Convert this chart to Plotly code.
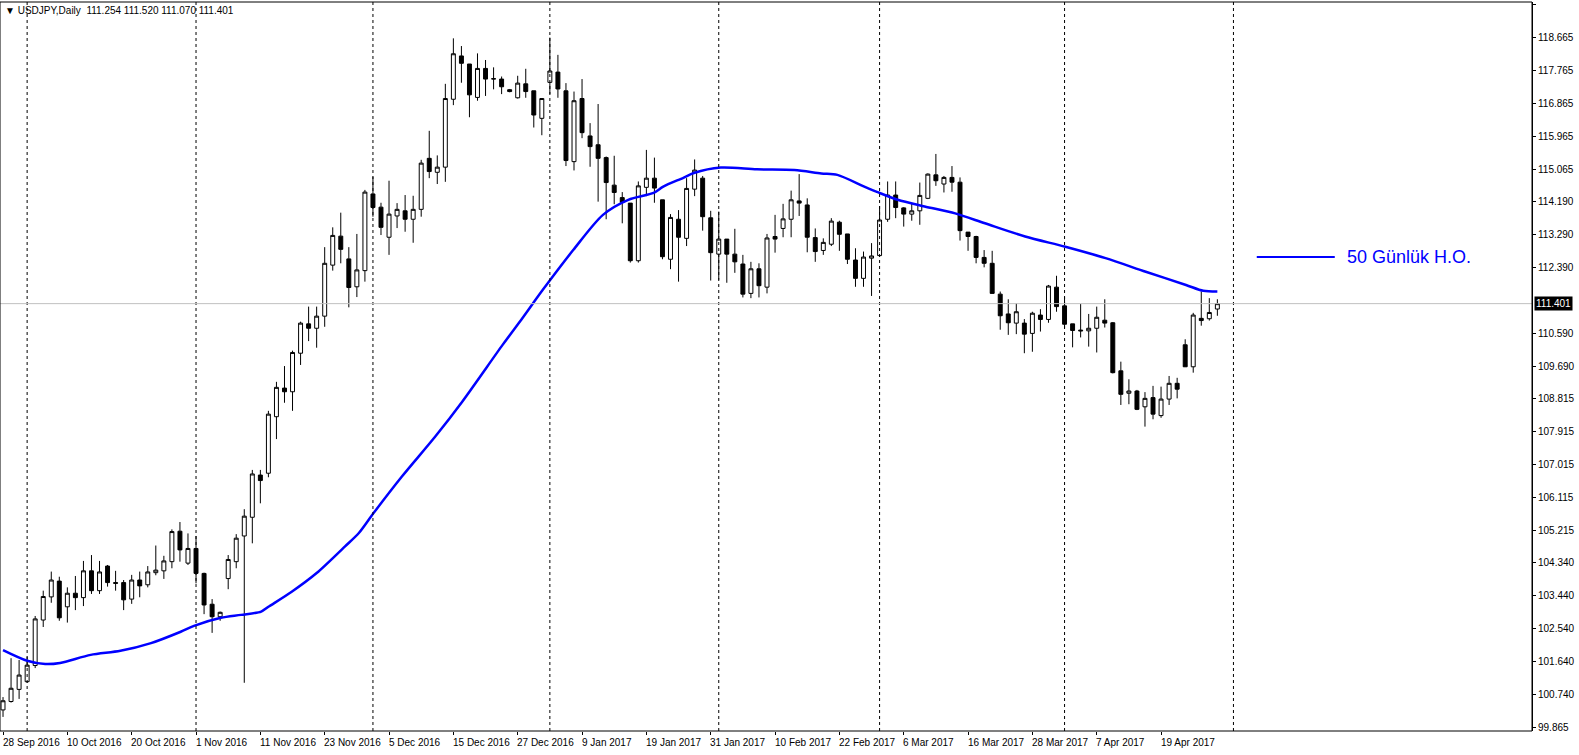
import plotly.graph_objects as go

opens = [100.33,100.56,100.89,101.10,101.54,102.78,103.41,103.84,103.14,103.51,
         103.39,104.12,103.58,104.25,103.80,103.80,103.35,103.87,103.74,104.07,
         104.12,104.37,105.20,104.33,104.73,104.05,103.21,102.87,103.91,104.37,
         105.07,105.58,106.73,106.78,108.32,109.10,109.00,110.05,110.85,110.73,
         111.06,112.45,113.24,112.62,111.86,112.30,114.39,114.03,113.21,113.79,
         113.93,113.70,113.97,115.36,114.98,115.12,116.97,118.15,117.93,117.02,
         117.81,117.52,117.52,117.23,117.01,117.39,117.20,116.45,117.43,117.71,
         117.20,115.27,116.99,115.97,115.73,115.38,114.63,114.29,114.14,112.57,
         114.57,114.82,114.23,112.61,113.70,113.18,114.52,114.82,113.74,112.75,
         113.16,112.75,112.48,111.68,112.35,111.85,113.23,113.45,113.70,114.20,
         114.09,113.20,112.85,113.02,113.62,113.30,112.59,112.09,112.64,112.71,
         113.70,114.36,114.01,113.84,113.93,114.27,114.91,114.66,114.84,114.71,
         113.35,113.23,112.66,112.50,111.66,111.12,110.87,110.87,110.59,111.09,
         110.97,111.85,111.34,110.85,110.68,110.66,110.73,110.95,110.88,109.57,
         108.96,109.02,108.59,108.84,108.35,108.80,109.23,110.28,109.68,111.00,
         110.99,111.254]
highs = [100.68,101.74,101.69,101.78,102.89,103.58,104.10,103.96,103.67,103.98,
         104.39,104.55,104.39,104.28,104.12,103.87,104.01,104.10,104.25,104.81,
         104.53,105.25,105.45,105.14,105.07,104.07,103.35,103.01,104.55,105.12,
         105.80,106.87,106.87,108.48,109.27,109.70,110.12,110.91,111.32,111.32,
         112.94,113.48,113.88,112.94,113.30,114.50,114.86,114.15,114.75,114.14,
         114.36,114.34,115.32,116.11,115.44,117.39,118.63,118.42,117.93,118.22,
         118.04,117.84,117.59,117.25,117.61,117.80,117.20,116.99,118.65,118.18,
         117.41,117.18,117.52,116.32,116.84,115.41,115.43,114.44,114.14,114.73,
         115.59,115.38,114.23,113.84,113.95,114.82,115.33,114.88,113.93,113.91,
         113.16,113.44,112.73,112.54,112.50,113.30,113.82,114.12,114.48,114.93,
         114.27,113.45,113.18,113.73,113.66,113.30,112.91,112.82,113.05,114.06,
         114.73,114.73,114.03,114.14,114.70,114.95,115.48,114.88,115.15,114.84,
         113.35,113.25,112.86,112.84,111.73,111.52,111.41,110.98,111.18,111.25,
         111.91,112.16,111.59,110.85,111.39,111.12,111.32,111.52,110.90,109.82,
         109.34,109.05,108.99,109.16,109.14,109.43,109.38,110.43,111.15,111.73,
         111.55,111.520]
lows = [100.14,100.53,100.63,101.07,101.47,102.59,103.25,102.76,102.71,103.05,
        103.16,103.49,103.49,103.69,103.58,103.05,103.22,103.40,103.67,104.00,
        103.90,104.19,104.37,104.28,103.78,102.94,102.43,102.76,103.62,104.19,
        101.07,104.87,105.96,106.67,107.71,108.70,108.48,109.73,110.38,110.20,
        110.77,112.30,112.50,111.30,111.58,112.00,113.77,113.27,112.73,113.46,
        113.36,113.06,113.77,114.82,114.66,114.72,116.81,117.42,116.48,116.93,
        117.06,117.24,117.11,117.16,116.99,117.01,116.20,115.99,117.11,117.01,
        115.15,115.03,115.91,115.13,114.18,113.70,114.11,113.59,112.52,112.52,
        114.33,114.15,112.61,112.34,112.00,112.97,114.33,113.39,112.03,112.05,
        111.97,112.24,111.57,111.55,111.57,111.68,112.79,113.21,113.21,113.79,
        112.80,112.54,112.73,112.97,112.84,112.48,111.86,111.86,111.61,112.68,
        113.63,113.73,113.50,113.66,113.55,114.25,114.61,114.43,114.45,113.12,
        112.84,112.50,112.39,111.68,110.69,110.55,110.57,110.05,110.09,110.64,
        110.88,111.18,110.73,110.21,110.48,110.23,110.07,110.75,109.50,108.64,
        108.66,108.50,108.05,108.25,108.29,108.64,108.82,109.68,109.52,110.80,
        110.94,111.070]
closes = [100.58,100.92,101.28,101.55,102.81,103.42,103.87,102.84,103.51,103.39,
          104.12,103.58,104.09,103.80,103.78,103.33,103.87,103.71,104.09,104.14,
          104.39,105.19,104.69,104.73,104.05,103.19,102.87,102.99,104.43,105.01,
          105.61,106.76,106.58,108.39,109.12,109.00,110.07,110.87,110.73,111.06,
          112.50,113.26,112.88,111.84,112.32,114.44,114.02,113.48,113.84,113.97,
          113.70,113.97,115.23,115.00,115.12,116.99,118.21,117.95,117.09,117.81,
          117.52,117.53,117.31,117.18,117.41,117.18,116.54,116.99,117.74,117.25,
          115.30,116.93,116.06,115.68,115.36,114.70,114.43,114.16,112.57,114.61,
          114.82,114.55,112.68,113.75,113.21,114.54,115.04,113.77,112.79,113.16,
          112.75,112.54,111.66,112.35,111.89,113.19,113.16,113.71,114.23,114.14,
          113.21,112.82,113.07,113.65,113.29,112.61,112.09,112.67,112.70,113.68,
          114.36,114.02,113.84,113.93,114.35,114.93,114.75,114.84,114.71,113.39,
          113.23,112.66,112.50,111.68,111.07,110.88,111.18,110.57,111.14,110.97,
          111.88,111.32,110.84,110.67,110.66,110.73,111.03,110.87,109.52,108.93,
          109.02,108.52,108.82,108.39,108.80,109.23,109.07,109.68,111.09,110.94,
          111.16,111.401]

ma_bar = [0,3,5.25,7.1,10.9,14.6,18.4,22.1,23.75,27.1,29.6,32.1,33,35.9,39,42.5,
          44.25,46.1,49.6,53.75,57.1,62.1,64.6,67.1,70.9,74.6,77.75,80.9,82.1,84.6,
          85.9,89.25,93.75,98.4,101.75,103.75,107.1,108.75,111.25,114.6,118.4,
          122.1,127.1,132.1,137.1,142.1,147.1,149.25,151]
ma_val = [101.96,101.67,101.58,101.61,101.83,101.94,102.15,102.46,102.62,102.84,
          102.92,103.01,103.14,103.55,104.06,104.78,105.15,105.70,106.69,107.78,
          108.73,110.27,111.01,111.77,112.86,113.82,114.23,114.42,114.59,114.83,
          114.96,115.11,115.06,115.04,114.95,114.91,114.59,114.44,114.23,114.05,
          113.86,113.59,113.23,112.95,112.64,112.27,111.91,111.75,111.73]

date_labels = ["28 Sep 2016","10 Oct 2016","20 Oct 2016","1 Nov 2016","11 Nov 2016",
               "23 Nov 2016","5 Dec 2016","15 Dec 2016","27 Dec 2016","9 Jan 2017",
               "19 Jan 2017","31 Jan 2017","10 Feb 2017","22 Feb 2017","6 Mar 2017",
               "16 Mar 2017","28 Mar 2017","7 Apr 2017","19 Apr 2017"]
label_bars = [0,8,16,24,32,40,48,56,64,72,80,88,96,104,112,120,128,136,144]
separator_bars = [3,24,46,68,89,109,132,153]
y_ticks = [99.865,100.740,101.640,102.540,103.440,104.340,105.215,106.115,107.015,
           107.915,108.815,109.690,110.590,112.390,113.290,114.190,115.065,
           115.965,116.865,117.765,118.665,119.540]
last_price = 111.401

xs = list(range(len(opens)))
fig = go.Figure()
fig.add_trace(go.Candlestick(
    x=xs, open=opens, high=highs, low=lows, close=closes,
    increasing=dict(line=dict(color="black", width=1), fillcolor="white"),
    decreasing=dict(line=dict(color="black", width=1), fillcolor="black"),
    whiskerwidth=0, showlegend=False, hoverinfo="skip"))
fig.add_trace(go.Scatter(x=ma_bar, y=ma_val, mode="lines",
                         line=dict(color="#0000ff", width=2.5, shape="spline", smoothing=0.8),
                         showlegend=False))
fig.add_trace(go.Scatter(x=[155.9, 165.6], y=[112.67, 112.67], mode="lines",
                         line=dict(color="#0000ff", width=2), showlegend=False))

shapes = [dict(type="line", xref="x", yref="paper", x0=b, x1=b, y0=0, y1=1,
               line=dict(color="black", width=1, dash="dot")) for b in separator_bars]
shapes.append(dict(type="line", xref="paper", yref="y", x0=0, x1=1,
                   y0=last_price, y1=last_price, line=dict(color="#c0c0c0", width=1)))
shapes.append(dict(type="rect", xref="paper", yref="paper", x0=0, x1=1, y0=0, y1=1,
                   line=dict(color="black", width=1)))

annotations = []
for b, t in zip(label_bars, date_labels):
    annotations.append(dict(x=b - 0.3, y=0, xref="x", yref="paper", text=t,
                            showarrow=False, xanchor="left", yanchor="top", yshift=-4,
                            font=dict(family="Liberation Sans", size=10, color="black")))
annotations.append(dict(x=1, y=last_price, xref="paper", yref="y", text="111.401",
                        showarrow=False, xanchor="left", xshift=2, bgcolor="black",
                        font=dict(family="Liberation Sans", size=10, color="white")))
annotations.append(dict(x=0, y=1, xref="paper", yref="paper",
                        text="▼ USDJPY,Daily  111.254 111.520 111.070 111.401",
                        showarrow=False, xanchor="left", yanchor="top", xshift=3, yshift=-1,
                        font=dict(family="Liberation Sans", size=10, color="black")))
annotations.append(dict(x=166.9, y=112.67, xref="x", yref="y", text="50 Günlük H.O.",
                        showarrow=False, xanchor="left",
                        font=dict(family="Liberation Sans", size=18, color="#0000ff")))

fig.update_layout(
    width=1579, height=755, margin=dict(l=0, r=47, t=2, b=24),
    paper_bgcolor="white", plot_bgcolor="white",
    shapes=shapes, annotations=annotations,
    xaxis=dict(range=[-0.375, 190.125], showgrid=False, zeroline=False,
               showticklabels=False, rangeslider=dict(visible=False),
               tickvals=label_bars, ticks="outside", ticklen=3, tickcolor="black"),
    yaxis=dict(range=[99.756, 119.62], side="right", showgrid=False, zeroline=False,
               automargin=False,
               tickvals=y_ticks, ticktext=[f"{v:.3f}" for v in y_ticks],
               ticks="outside", ticklen=3, tickcolor="black",
               tickfont=dict(family="Liberation Sans", size=10, color="black"),
               showline=True, linecolor="black"),
)
fig.write_html("out.html", config=dict(displayModeBar=False),
               post_script="document.body.style.margin='0';document.body.style.overflow='hidden';")

with open("out.html", encoding="utf-8") as f:
    html = f.read()
html = html.replace("<head>", "<head><style>html,body{margin:0;padding:0;overflow:hidden;}</style>", 1)
with open("out.html", "w", encoding="utf-8") as f:
    f.write(html)
